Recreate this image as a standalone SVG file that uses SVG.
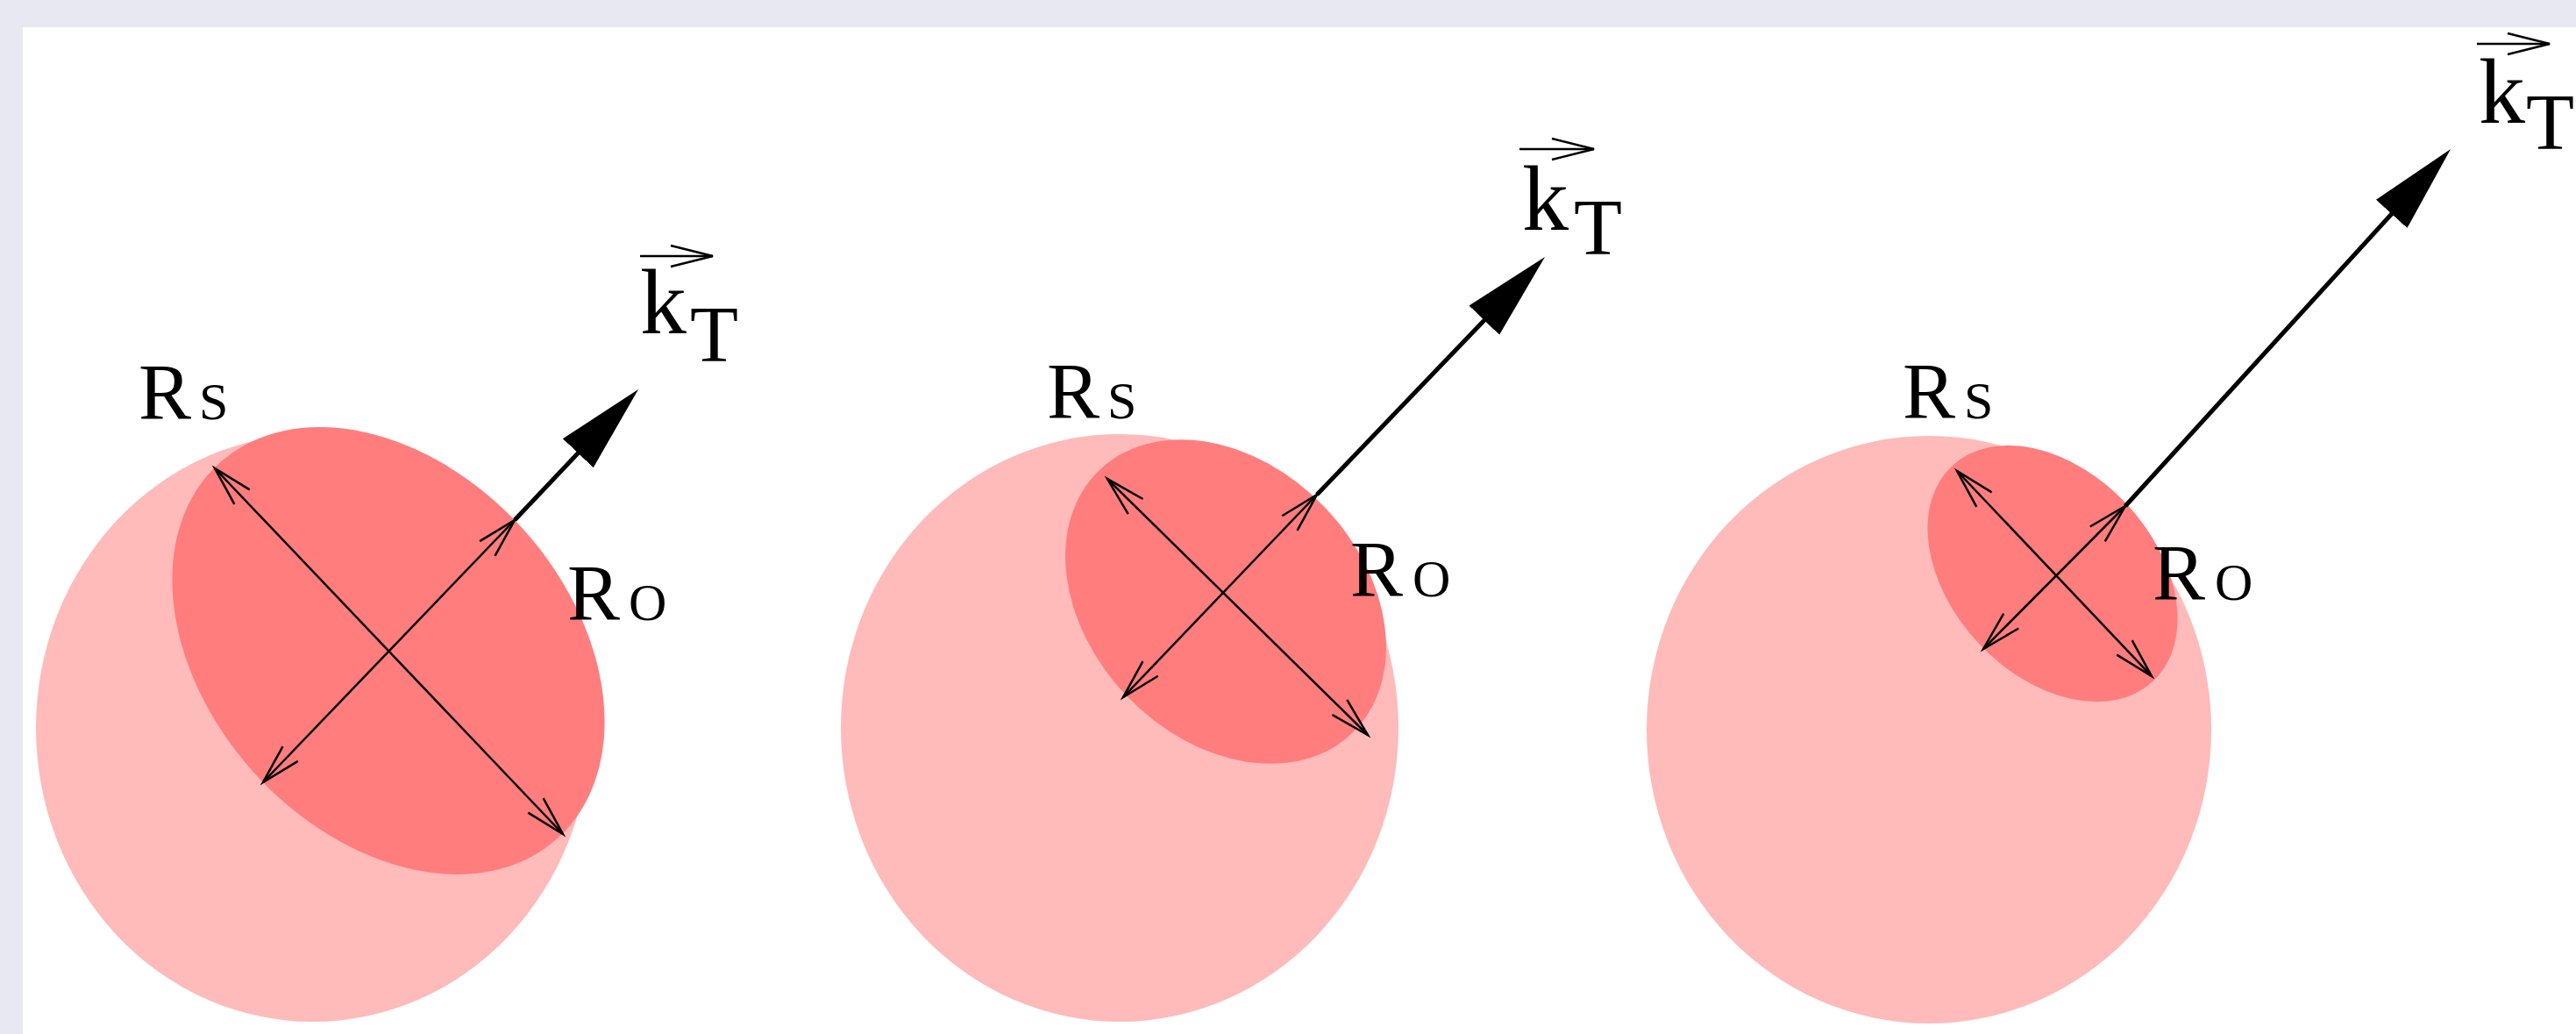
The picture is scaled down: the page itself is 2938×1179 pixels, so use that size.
<svg xmlns="http://www.w3.org/2000/svg" width="2938" height="1179" viewBox="0 0 2938 1179">
<style>
.lbl{font-family:"Liberation Serif","Times New Roman",serif;fill:#000}
.big{font-size:90px}
.sub{font-size:60px}
.k{font-size:106px}
.t{font-size:90px}
.outer{fill:#FFBABA}
.inner{fill:#FF7D7D}
.rad{stroke:#000;stroke-width:2.5;fill:none;marker-start:url(#open);marker-end:url(#open)}
.kt{stroke:#000;stroke-width:5;fill:none;marker-end:url(#solid)}
.vec{stroke:#000;stroke-width:2.5;fill:none;marker-end:url(#chev)}
</style>
<defs>
<marker id="open" markerUnits="userSpaceOnUse" viewBox="-50 -20 60 40" refX="0" refY="0" markerWidth="60" markerHeight="40" orient="auto-start-reverse">
<path d="M-45,-12 L0,0 L-45,12" fill="none" stroke="#000" stroke-width="2.5"/>
</marker>
<marker id="solid" markerUnits="userSpaceOnUse" viewBox="0 -30 110 60" refX="60" refY="0" markerWidth="110" markerHeight="60" orient="auto">
<path d="M0,-24 L100,0 L0,24 Z" fill="#000"/>
</marker>
<marker id="chev" markerUnits="userSpaceOnUse" viewBox="-55 -20 60 40" refX="0" refY="0" markerWidth="60" markerHeight="40" orient="auto">
<path d="M-48,-12 L0,0 L-48,12" fill="none" stroke="#000" stroke-width="2.5"/>
</marker>
</defs>
<rect x="0" y="0" width="2938" height="1179" fill="#E8E8F3"/>
<rect x="26" y="31" width="2912" height="1148" fill="#FFFFFF"/>

<g id="panel1">
<ellipse class="outer" cx="357" cy="830" rx="316" ry="335"/>
<ellipse class="inner" cx="443" cy="742" rx="288" ry="207" transform="rotate(48 443 742)"/>
</g>
<g id="panel2">
<ellipse class="outer" cx="1277" cy="830" rx="318" ry="335"/>
<ellipse class="inner" cx="1398" cy="686" rx="208" ry="156" transform="rotate(46 1398 686)"/>
</g>
<g id="panel3">
<ellipse class="outer" cx="2200" cy="832" rx="322" ry="335"/>
<ellipse class="inner" cx="2341" cy="654" rx="168" ry="116" transform="rotate(47 2341 654)"/>
</g>

<g id="connectors">
<line class="rad" x1="245" y1="534" x2="642" y2="951"/>
<line class="rad" x1="300" y1="892" x2="587" y2="593"/>
<line class="kt" x1="587" y1="593" x2="700.5" y2="473.1"/>
<line class="rad" x1="1263" y1="546" x2="1560" y2="838"/>
<line class="rad" x1="1281" y1="795" x2="1502" y2="564"/>
<line class="kt" x1="1502" y1="564" x2="1734.3" y2="321.9"/>
<line class="rad" x1="2232" y1="537" x2="2454" y2="771"/>
<line class="rad" x1="2262" y1="740" x2="2424" y2="577"/>
<line class="kt" x1="2424" y1="577" x2="2768.1" y2="199.6"/>
</g>

<g id="labels1">
<text class="lbl big" x="158" y="478">R</text><text class="lbl sub" x="227" y="478">S</text>
<text class="lbl big" x="647" y="707">R</text><text class="lbl sub" x="717" y="707">O</text>
<line class="vec" x1="730" y1="292" x2="813" y2="292"/>
<text class="lbl k" x="730" y="380">k</text><text class="lbl t" x="787" y="412">T</text>
</g>
<g id="labels2">
<text class="lbl big" x="1194" y="477">R</text><text class="lbl sub" x="1263" y="477">S</text>
<text class="lbl big" x="1540" y="680">R</text><text class="lbl sub" x="1611" y="680">O</text>
<line class="vec" x1="1733" y1="170" x2="1818" y2="170"/>
<text class="lbl k" x="1736" y="262">k</text><text class="lbl t" x="1795" y="290">T</text>
</g>
<g id="labels3">
<text class="lbl big" x="2170" y="477">R</text><text class="lbl sub" x="2240" y="477">S</text>
<text class="lbl big" x="2455" y="684">R</text><text class="lbl sub" x="2526" y="684">O</text>
<line class="vec" x1="2825" y1="50" x2="2908" y2="50"/>
<text class="lbl k" x="2827" y="140">k</text><text class="lbl t" x="2881" y="170">T</text>
</g>
</svg>
